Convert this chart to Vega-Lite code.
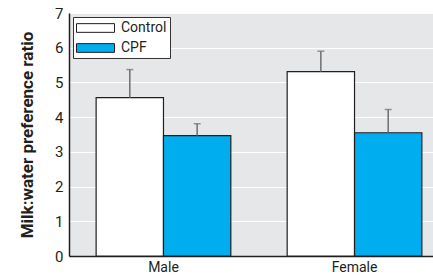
{
  "$schema": "https://vega.github.io/schema/vega-lite/v6.json",
  "autosize": {"type": "none"},
  "padding": {"left": 69, "top": 13, "right": 0, "bottom": 22},
  "width": 380,
  "height": 243,
  "background": "white",
  "data": {"values": [
    {"sex": "Male", "group": "Control", "ratio": 4.56, "upper": 5.37},
    {"sex": "Male", "group": "CPF", "ratio": 3.47, "upper": 3.81},
    {"sex": "Female", "group": "Control", "ratio": 5.31, "upper": 5.9},
    {"sex": "Female", "group": "CPF", "ratio": 3.55, "upper": 4.22}
  ]},
  "encoding": {
    "x": {"field": "sex", "type": "nominal", "sort": ["Male", "Female"],
      "scale": {"paddingInner": 0.295, "paddingOuter": 0.142},
      "axis": {"title": null, "labelAngle": 0, "ticks": false, "domainColor": "#231f20", "domainWidth": 1.5, "labelFont": "Roboto", "labelFontSize": 14, "labelColor": "#231f20", "labelPadding": 4, "grid": false}},
    "xOffset": {"field": "group", "type": "nominal", "sort": ["Control", "CPF"], "scale": {"paddingInner": 0, "paddingOuter": 0}}
  },
  "layer": [
    {
      "mark": {"type": "bar", "stroke": "#231f20", "strokeWidth": 1.2},
      "encoding": {
        "y": {"field": "ratio", "type": "quantitative", "scale": {"domain": [0, 7]},
          "axis": {"title": "Milk:water preference ratio", "values": [0,1,2,3,4,5,6,7], "labelOverlap": false}},
        "fill": {"field": "group", "type": "nominal",
          "scale": {"domain": ["Control", "CPF"], "range": ["white", "#00aeef"]},
          "legend": {"title": null, "orient": "top-left", "offset": 4, "fillColor": "white", "strokeColor": "#333", "padding": 3,
            "symbolType": "M-1,-0.58H4.07V0.58H-1Z", "symbolSize": 225, "symbolStrokeColor": "#231f20", "symbolStrokeWidth": 1,
            "labelFont": "Roboto", "labelFontSize": 14, "labelColor": "#231f20", "rowPadding": 5, "labelOffset": 29}}
      }
    },
    {
      "mark": {"type": "rule", "color": "#6d6e70", "strokeWidth": 1.5},
      "encoding": {
        "y": {"field": "ratio", "type": "quantitative", "axis": {"title": "Milk:water preference ratio", "values": [0,1,2,3,4,5,6,7], "labelOverlap": false}},
        "y2": {"field": "upper"}
      }
    },
    {
      "mark": {"type": "tick", "color": "#6d6e70", "thickness": 1.5, "size": 7},
      "encoding": {
        "y": {"field": "upper", "type": "quantitative", "axis": {"title": "Milk:water preference ratio", "values": [0,1,2,3,4,5,6,7], "labelOverlap": false}}
      }
    }
  ],
  "config": {
    "view": {"fill": "#e6e7e8", "stroke": null},
    "axisY": {"titleFont": "Roboto", "titleFontWeight": "bold", "titleFontSize": 17, "titleColor": "#231f20", "titlePadding": 18,
      "ticks": false, "labelFont": "Roboto", "labelFontSize": 15, "labelColor": "#231f20", "labelPadding": 6,
      "domainColor": "#231f20", "domainWidth": 1.5, "gridColor": "white", "gridWidth": 1.2}
  }
}
